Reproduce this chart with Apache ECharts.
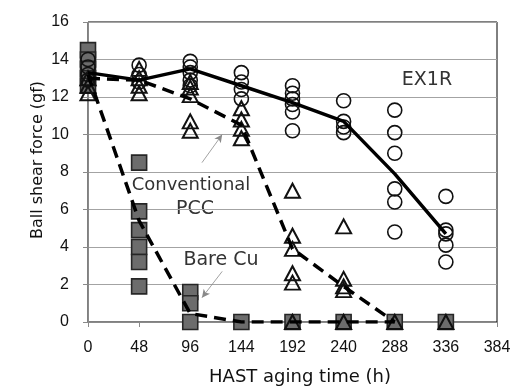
<!DOCTYPE html>
<html>
<head>
<meta charset="utf-8">
<script src="https://cdn.jsdelivr.net/npm/echarts@6/dist/echarts.min.js"></script>
<style>
  html, body { margin: 0; padding: 0; background: #fff; }
  #chart { width: 516px; height: 388px; }
</style>
</head>
<body>
<div id="chart"></div>
<script>
// aging times (h)
const hours = [0, 48, 96, 144, 192, 240, 288, 336];

// individual ball shear readings (gf), one list per aging time
const ex1rCircles = [
  [14.0, 13.6, 13.2, 12.9],
  [13.7, 13.2, 12.8],
  [13.9, 13.6, 13.3, 12.9, 12.6],
  [13.3, 12.8, 12.4, 11.9],
  [12.6, 12.2, 11.9, 11.6, 11.2, 10.2],
  [11.8, 10.7, 10.4, 10.1],
  [11.3, 10.1, 9.0, 7.1, 6.4, 4.8],
  [6.7, 4.9, 4.7, 4.1, 3.2]
];
const pccTriangles = [
  [13.0, 12.6, 12.2],
  [13.5, 13.0, 12.6, 12.2],
  [12.8, 12.5, 12.1, 10.7, 10.2],
  [11.4, 10.8, 10.3, 9.8],
  [7.0, 4.6, 3.9, 2.6, 2.1, 0],
  [5.1, 2.3, 1.9, 1.7, 0],
  [0],
  [0]
];
const bareCuSquares = [
  [14.5, 14.0, 13.5, 13.0, 12.6],
  [8.5, 5.9, 4.9, 4.0, 3.2, 1.9],
  [1.6, 1.0, 0],
  [0], [0], [0], [0], [0]
];

// trend lines (mean values)
const ex1rMean = [13.3, 12.9, 13.5, 12.6, 11.7, 10.7, 7.9, 4.7];
const pccMean = [13.0, 12.9, 11.9, 10.5, 3.9, 1.9, 0, null];
const bareCuMean = [13.2, 5.4, 0.45, 0, 0, 0, 0, null];

function toPairs(groups) {
  const out = [];
  groups.forEach(function (vals, i) {
    vals.forEach(function (v) { out.push([hours[i], v]); });
  });
  return out;
}
function linePairs(vals) {
  return vals.map(function (v, i) { return [hours[i], v]; }).filter(function (p) { return p[1] !== null; });
}

const numFont = '"Liberation Sans Narrow", "Arial Narrow", "Liberation Sans", sans-serif';
const txtFont = '"DejaVu Sans", sans-serif';

const chart = echarts.init(document.getElementById('chart'));
chart.setOption({
  animation: false,
  backgroundColor: '#fff',
  grid: {
    left: 88, right: 19, top: 22, bottom: 66,
    show: true, borderColor: '#000', borderWidth: 1
  },
  xAxis: {
    type: 'value', min: 0, max: 384, interval: 48,
    axisLine: { show: true, lineStyle: { color: '#8a8a8a', width: 1 } },
    axisTick: { show: true, length: 5, lineStyle: { color: '#8a8a8a' } },
    splitLine: { show: false },
    axisLabel: { color: '#111', fontSize: 16, fontFamily: numFont, margin: 18 }
  },
  yAxis: {
    type: 'value', min: 0, max: 16, interval: 2,
    axisLine: { show: true, lineStyle: { color: '#8a8a8a', width: 1 } },
    axisTick: { show: true, length: 5, lineStyle: { color: '#8a8a8a' } },
    splitLine: { show: true, lineStyle: { color: '#a3a3a3', width: 1 } },
    axisLabel: { color: '#111', fontSize: 16, fontFamily: numFont, margin: 19 }
  },
  graphic: [
    { type: 'text', x: 38, y: 160, rotation: Math.PI / 2,
      style: { text: 'Ball shear force (gf)', font: '16px ' + txtFont, fill: '#111', textAlign: 'center', textVerticalAlign: 'middle' } },
    { type: 'text', x: 300, y: 377,
      style: { text: 'HAST aging time (h)', font: '18px ' + txtFont, fill: '#111', textAlign: 'center', textVerticalAlign: 'middle' } },
    { type: 'text', x: 427, y: 80,
      style: { text: 'EX1R', font: '19px ' + txtFont, fill: '#333', textAlign: 'center', textVerticalAlign: 'middle' } },
    { type: 'text', x: 191, y: 185,
      style: { text: 'Conventional', font: '18px ' + txtFont, fill: '#333', textAlign: 'center', textVerticalAlign: 'middle' } },
    { type: 'text', x: 195, y: 209,
      style: { text: 'PCC', font: '19px ' + txtFont, fill: '#333', textAlign: 'center', textVerticalAlign: 'middle' } },
    { type: 'text', x: 221, y: 260,
      style: { text: 'Bare Cu', font: '19px ' + txtFont, fill: '#333', textAlign: 'center', textVerticalAlign: 'middle' } }
  ],
  series: [
    {
      name: 'Bare Cu', type: 'scatter', z: 2,
      symbol: 'rect', symbolSize: 15,
      itemStyle: { color: '#6c6c6c', borderColor: '#262626', borderWidth: 1.6, opacity: 1 },
      data: toPairs(bareCuSquares)
    },
    {
      name: 'EX1R', type: 'scatter', z: 3,
      symbol: 'circle', symbolSize: 14,
      itemStyle: { color: 'rgba(0,0,0,0)', borderColor: '#111', borderWidth: 1.6, opacity: 1 },
      data: toPairs(ex1rCircles)
    },
    {
      name: 'Conventional PCC', type: 'scatter', z: 4,
      symbol: 'triangle', symbolSize: [15, 14],
      itemStyle: { color: 'rgba(0,0,0,0)', borderColor: '#111', borderWidth: 2, opacity: 1 },
      data: toPairs(pccTriangles)
    },
    {
      name: 'EX1R mean', type: 'line', z: 5, symbol: 'none',
      lineStyle: { color: '#000', width: 3.5 },
      data: linePairs(ex1rMean)
    },
    {
      name: 'PCC mean', type: 'line', z: 5, symbol: 'none',
      lineStyle: { color: '#000', width: 3.5, type: [12, 7] },
      data: linePairs(pccMean)
    },
    {
      name: 'Bare Cu mean', type: 'line', z: 5, symbol: 'none',
      lineStyle: { color: '#000', width: 3.5, type: [12, 7] },
      data: linePairs(bareCuMean),
      markLine: {
        silent: true,
        symbol: ['none', 'arrow'],
        symbolSize: [6, 8],
        label: { show: false },
        lineStyle: { color: '#8a8a8a', width: 0.8, type: 'solid' },
        data: [
          [{ coord: [107, 8.5] }, { coord: [126, 10.0] }],
          [{ coord: [126, 2.7] }, { coord: [107, 1.3] }]
        ]
      }
    }
  ]
});
</script>
</body>
</html>
